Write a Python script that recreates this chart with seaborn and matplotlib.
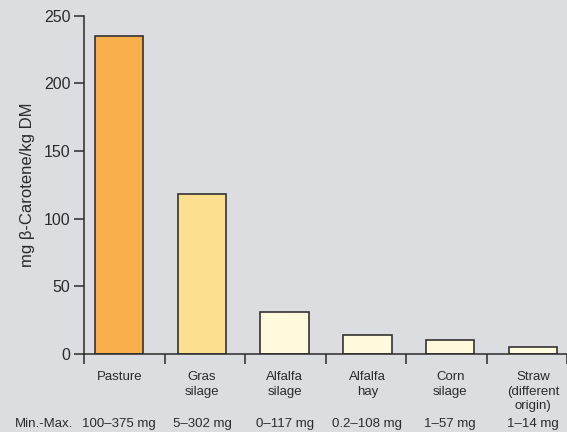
import numpy as np
import pandas as pd
import seaborn as sns
import matplotlib.pyplot as plt
from matplotlib.transforms import blended_transform_factory

# Data
feeds = ["Pasture", "Gras\nsilage", "Alfalfa\nsilage", "Alfalfa\nhay",
         "Corn\nsilage", "Straw\n(different\norigin)"]
carotene = [235, 118, 31, 14, 10, 5]
ranges = ["100–375 mg", "5–302 mg", "0–117 mg", "0.2–108 mg", "1–57 mg", "1–14 mg"]
bar_colors = ["#f9ae4c", "#fddf90", "#fffadb", "#fffadb", "#fffadb", "#fffadb"]
yticks = [0, 50, 100, 150, 200, 250]

bg = "#dcdde0"
ink = "#2b2b2b"

sns.set_theme(style="ticks")
plt.rcParams["font.family"] = ["Liberation Sans", "DejaVu Sans"]
label_font = ["Liberation Sans", "DejaVu Sans"]

W, H = 567, 432
fig = plt.figure(figsize=(W / 100, H / 100), dpi=100, facecolor=bg)
ax = fig.add_axes([84.3 / W, (H - 354) / H, (W - 84.3) / W, (354 - 15.7) / H])
ax.set_facecolor(bg)

df = pd.DataFrame({"feed": feeds, "value": carotene})
sns.barplot(data=df, x="feed", y="value", hue="feed", palette=bar_colors,
            legend=False, width=0.586, saturation=1, edgecolor="#333333",
            linewidth=1.2, ax=ax)

# axis span: bars sit slightly off the group boundaries
x0, x1 = -0.4218, 5.412
ax.set_xlim(x0, x1)
ax.set_ylim(0, 250)
ax.set_yticks(yticks)
ax.set_yticklabels([str(v) for v in yticks], fontsize=11.5, color=ink)

ax.set_xticks(range(len(feeds)))
ax.set_xticklabels(feeds, fontsize=9.5, linespacing=1.32, color=ink,
                   family=label_font)
ax.set_xticks(np.linspace(x0, x1, len(feeds) + 1), minor=True)
ax.tick_params(axis="x", which="major", length=0, pad=12)
ax.tick_params(axis="x", which="minor", length=7.5, width=1.1, color=ink,
               direction="out")
ax.tick_params(axis="y", length=7.5, width=1.1, color=ink, pad=2.5,
               direction="out")

ax.set_xlabel("")
ax.set_ylabel("mg β-Carotene/kg DM", fontsize=12, color=ink, labelpad=6)

sns.despine(ax=ax)
for side in ("left", "bottom"):
    ax.spines[side].set_color(ink)
    ax.spines[side].set_linewidth(1.1)

# Min.-Max. row below the category labels
trans = blended_transform_factory(ax.transData, fig.transFigure)
for i, r in enumerate(ranges):
    ax.text(i, 5.3 / H, r, transform=trans, ha="center", va="baseline",
            fontsize=9.5, color=ink, family=label_font)
fig.text(43.7 / W, 5.3 / H, "Min.-Max.", ha="center", va="baseline",
         fontsize=9.5, color=ink, family=label_font)

fig.savefig("out.png", dpi=100, facecolor=bg)
